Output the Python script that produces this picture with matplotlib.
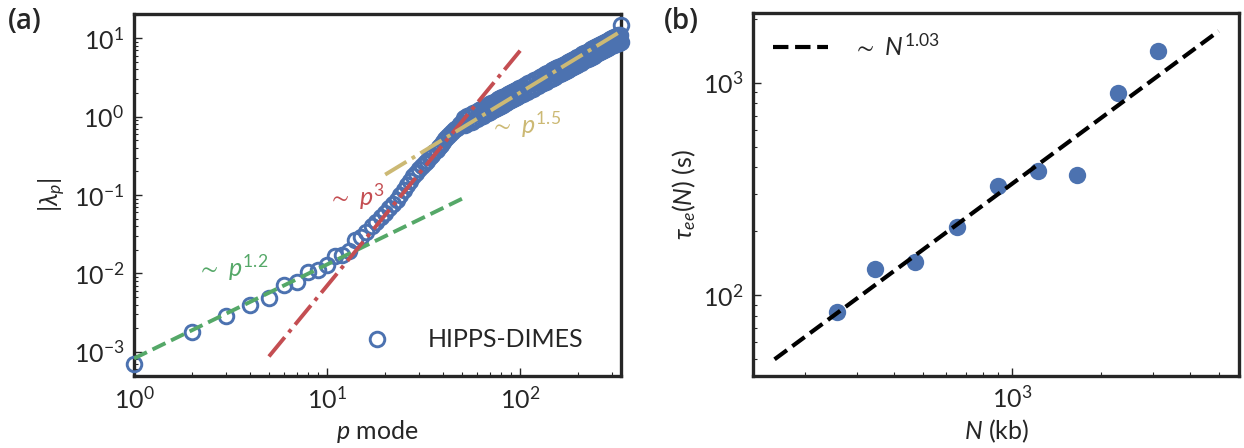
import matplotlib
matplotlib.use("Agg")
import matplotlib.pyplot as plt
from matplotlib.ticker import NullFormatter

plt.rcParams['font.family'] = ['Lato', 'DejaVu Sans']
plt.rcParams['mathtext.fontset'] = 'custom'
plt.rcParams['mathtext.rm'] = 'Lato'
plt.rcParams['mathtext.it'] = 'Lato:italic'
plt.rcParams['mathtext.fallback'] = 'stixsans'
plt.rcParams['text.color'] = '#262626'
plt.rcParams['axes.labelcolor'] = '#262626'
plt.rcParams['xtick.color'] = '#262626'
plt.rcParams['ytick.color'] = '#262626'

# panel (a): eigenvalues per mode (log10 |lambda_p|)
p_mode = list(range(1, 101)) + list(range(102, 201, 2)) + list(range(203, 333, 3)) + [333]
log_lam = [
    -3.16, -2.75, -2.54, -2.40, -2.32, -2.145, -2.11, -1.985, -1.96, -1.89,
    -1.78, -1.77, -1.72, -1.58, -1.53, -1.47, -1.39, -1.34, -1.28, -1.23,
    -1.17, -1.12, -1.07, -1.00, -0.94, -0.87, -0.82, -0.76, -0.72, -0.67,
    -0.63, -0.59, -0.56, -0.52, -0.49, -0.45, -0.42, -0.39, -0.36, -0.32,
    -0.29, -0.26, -0.23, -0.21, -0.18, -0.16, -0.14, -0.12, -0.10, -0.08,
    # p = 51..100
    -0.019, -0.108, 0.003, -0.086, 0.025, -0.065, 0.045, -0.045, 0.065, -0.025,
    0.084, -0.006, 0.103, 0.012, 0.121, 0.030, 0.139, 0.047, 0.156, 0.064,
    0.172, 0.080, 0.188, 0.096, 0.204, 0.111, 0.219, 0.126, 0.234, 0.141,
    0.248, 0.155, 0.262, 0.169, 0.276, 0.183, 0.290, 0.196, 0.303, 0.209,
    0.316, 0.222, 0.328, 0.234, 0.340, 0.247, 0.352, 0.258, 0.364, 0.270,
    # p = 102..200
    0.381, 0.293, 0.404, 0.314, 0.425, 0.335, 0.446, 0.356, 0.466, 0.375,
    0.485, 0.394, 0.504, 0.413, 0.522, 0.430, 0.539, 0.448, 0.556, 0.464,
    0.573, 0.481, 0.589, 0.497, 0.604, 0.512, 0.619, 0.527, 0.634, 0.542,
    0.649, 0.556, 0.663, 0.570, 0.676, 0.583, 0.690, 0.597, 0.703, 0.610,
    0.716, 0.622, 0.728, 0.635, 0.741, 0.647, 0.753, 0.659, 0.765, 0.670,
    # p = 203..332
    0.779, 0.687, 0.795, 0.704, 0.812, 0.720, 0.828, 0.735, 0.843, 0.751,
    0.858, 0.766, 0.873, 0.780, 0.887, 0.794, 0.901, 0.808, 0.915, 0.822,
    0.928, 0.835, 0.941, 0.848, 0.954, 0.860, 0.966, 0.873, 0.979, 0.885,
    0.991, 0.897, 1.002, 0.908, 1.014, 0.918, 1.022, 0.926, 1.030, 0.934,
    1.038, 0.942, 1.046, 0.950,
    # p = 333
    1.167]
lam = [10 ** v for v in log_lam]

# power-law guides (end points)
green_p = [1, 50]
green_lam = [8.2e-4, 8.96e-2]
red_p = [5, 100]
red_lam = [8.7e-4, 6.95]
yellow_p = [20, 340]
yellow_lam = [0.182, 12.7]

# panel (b): relaxation time vs length
N_kb = [256, 346, 472, 652, 897, 1224, 1667, 2279, 3127]
tau = [83.4, 132, 143, 208, 327, 385, 369, 898, 1409]
fit_N = [158, 5000]
fit_tau = [49.8, 1750]

blue = '#4c72b0'
green = '#55a868'
red = '#c44e52'
yellow = '#ccb974'

fig = plt.figure(figsize=(12.44, 4.48), dpi=100)
ax1 = fig.add_axes([0.1077, 0.1607, 0.3915, 0.808])
ax2 = fig.add_axes([0.6056, 0.1614, 0.3907, 0.809])

fs = 18

ax1.plot(p_mode, lam, 'o', mfc='none', mec=blue, ms=10.5, mew=2.1, label='HIPPS-DIMES', clip_on=False, zorder=3)
ax1.plot(green_p, green_lam, '--', color=green, lw=2.8, zorder=4)
ax1.plot(red_p, red_lam, '-.', color=red, lw=2.8, zorder=4)
ax1.plot(yellow_p, yellow_lam, '-.', color=yellow, lw=2.8, zorder=4)
ax1.set_xscale('log')
ax1.set_yscale('log')
ax1.set_xlim(1, 333)
ax1.set_ylim(4.9e-4, 20.4)
ax1.set_xlabel('$p$ mode', fontsize=fs)
ax1.set_ylabel(r'$|\lambda_p|$', fontsize=fs)
ax1.text(2.12, 0.0119, r'$\sim\ p^{1.2}$', color=green, fontsize=fs, va='center')
ax1.text(10.1, 0.095, r'$\sim\ p^{3}$', color=red, fontsize=fs, va='center')
ax1.text(70, 0.78, r'$\sim\ p^{1.5}$', color=yellow, fontsize=fs, va='center')
ax1.legend(loc='center', bbox_to_anchor=(0.685, 0.10), frameon=False, fontsize=fs,
           numpoints=1, handletextpad=1.0)

ax2.plot(N_kb, tau, 'o', color=blue, ms=12.5, mew=0, zorder=3)
ax2.plot(fit_N, fit_tau, '--', color='black', lw=3.0, label=r'$\sim\ N^{1.03}$', zorder=4)
ax2.set_xscale('log')
ax2.set_yscale('log')
ax2.set_xlim(134, 5875)
ax2.set_ylim(41.7, 2123)
ax2.set_xlabel('$N$ (kb)', fontsize=fs)
ax2.set_ylabel(r'$\tau_{ee}(N)$ (s)', fontsize=fs)
ax2.legend(loc='upper left', frameon=False, fontsize=fs, handlelength=2.2, handletextpad=1.0,
           borderaxespad=0.4)

for ax in (ax1, ax2):
    for s in ax.spines.values():
        s.set_linewidth(2.4)
        s.set_color('#262626')
    ax.tick_params(which='both', direction='in', top=False, right=False, labelsize=fs, pad=7)
    ax.tick_params(which='major', length=6, width=1.0)
    ax.tick_params(which='minor', length=3, width=0.8)
    ax.xaxis.set_minor_formatter(NullFormatter())
    ax.yaxis.set_minor_formatter(NullFormatter())

fig.text(0.006, 0.985, '(a)', fontsize=20, fontweight='semibold', family='Open Sans', va='top')
fig.text(0.534, 0.985, '(b)', fontsize=20, fontweight='semibold', family='Open Sans', va='top')

fig.savefig('out.png', dpi=100)
